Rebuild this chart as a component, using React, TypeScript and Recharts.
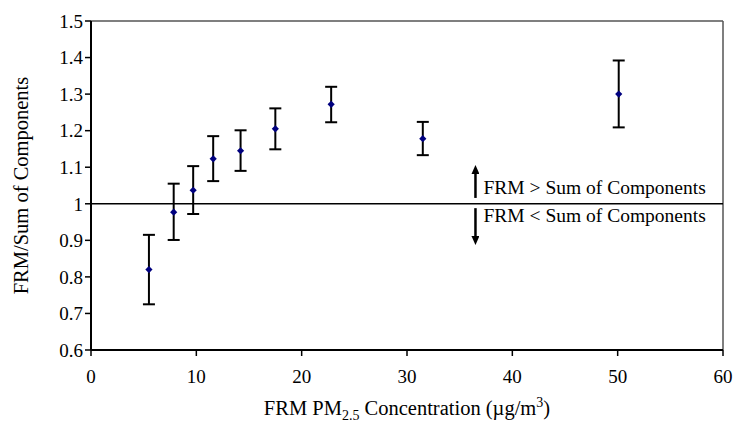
import * as React from "react";
import {
    ScatterChart,
    Scatter,
    XAxis,
    YAxis,
    ErrorBar,
    ReferenceLine,
    ReferenceDot,
} from "recharts";

const concentration = [5.5, 7.85, 9.7, 11.6, 14.2, 17.5, 22.8, 31.5, 50.1];
const ratio = [0.82, 0.977, 1.037, 1.123, 1.145, 1.205, 1.272, 1.178, 1.3];
const lowerBound = [0.725, 0.901, 0.972, 1.062, 1.09, 1.149, 1.223, 1.133, 1.209];
const upperBound = [0.915, 1.055, 1.103, 1.185, 1.201, 1.261, 1.32, 1.224, 1.392];

const xTicks = [0, 10, 20, 30, 40, 50, 60];
const yTicks = [0.6, 0.7, 0.8, 0.9, 1.0, 1.1, 1.2, 1.3, 1.4, 1.5];

const aboveText = "FRM > Sum of Components";
const belowText = "FRM < Sum of Components";
const arrowX = 36.5;

const data = concentration.map((x, i) => ({
    x,
    y: ratio[i],
    err: [ratio[i] - lowerBound[i], upperBound[i] - ratio[i]],
}));

const FONT = "Liberation Serif, Times New Roman, serif";

const Diamond = (props: any) => {
    const { cx, cy } = props;
    const s = 3.6;
    return (
        <path
            d={`M${cx},${cy - s} L${cx + s},${cy} L${cx},${cy + s} L${cx - s},${cy} Z`}
            fill="#00007f"
        />
    );
};

const XLabel = (props: any) => {
    const vb = props.viewBox || { x: 0, y: 0, width: 0, height: 0 };
    const cx = vb.x + vb.width / 2;
    return (
        <text x={cx} y={vb.y + 65} textAnchor="middle" style={{ fontFamily: FONT, fontSize: 20.5 }} fill="#000">
            FRM PM
            <tspan style={{ fontSize: 14 }} dy={5}>2.5</tspan>
            <tspan dy={-5}> Concentration (µg/m</tspan>
            <tspan style={{ fontSize: 14 }} dy={-8}>3</tspan>
            <tspan dy={8}>)</tspan>
        </text>
    );
};

const YLabel = (props: any) => {
    const vb = props.viewBox || { x: 0, y: 0, width: 0, height: 0 };
    const cy = vb.y + vb.height / 2;
    const x = 28;
    return (
        <text
            x={x}
            y={cy}
            transform={`rotate(-90 ${x} ${cy})`}
            textAnchor="middle"
            style={{ fontFamily: FONT, fontSize: 20.5 }}
            fill="#000"
        >
            FRM/Sum of Components
        </text>
    );
};

const Annotation = (props: any) => {
    const { cx, cy } = props;
    return (
        <g style={{ fontFamily: FONT, fontSize: 19.5 }} fill="#000">
            <text x={cx + 8} y={cy - 9.5}>{aboveText}</text>
            <text x={cx + 8} y={cy + 18}>{belowText}</text>
        </g>
    );
};

const fmtY = (v: number) => String(Number(v.toFixed(1)));

const tickStyle = { fill: "#000", fontSize: 19, fontFamily: FONT, style: { fontFamily: FONT } };

export default function App() {
    return (
        <div style={{ position: "absolute", left: 0, top: 0, background: "#fff", fontFamily: FONT }}>
            <ScatterChart
                width={733}
                height={423}
                margin={{ top: 21, right: 10, bottom: 0, left: 0 }}
                style={{ fontFamily: FONT }}
            >
                <defs>
                    <marker
                        id="arrowHead"
                        markerUnits="userSpaceOnUse"
                        markerWidth={9}
                        markerHeight={8}
                        refX={1}
                        refY={4}
                        orient="auto"
                    >
                        <path d="M0,0 L9,4 L0,8 Z" fill="#000" />
                    </marker>
                </defs>
                <XAxis
                    type="number"
                    dataKey="x"
                    domain={[0, 60]}
                    ticks={xTicks}
                    height={73}
                    tickSize={6}
                    tickMargin={14}
                    axisLine={{ stroke: "#000", strokeWidth: 2 }}
                    tickLine={{ stroke: "#000", strokeWidth: 1.5 }}
                    tick={tickStyle}
                    label={<XLabel />}
                />
                <YAxis
                    type="number"
                    dataKey="y"
                    domain={[0.6, 1.5]}
                    ticks={yTicks}
                    width={91}
                    tickSize={6}
                    tickFormatter={fmtY}
                    axisLine={{ stroke: "#000", strokeWidth: 2 }}
                    tickLine={{ stroke: "#000", strokeWidth: 1.5 }}
                    tick={tickStyle}
                    label={<YLabel />}
                />
                <ReferenceLine y={1.5} stroke="#555" strokeWidth={1.5} />
                <ReferenceLine x={60} stroke="#555" strokeWidth={1.5} />
                <ReferenceLine y={1} stroke="#000" strokeWidth={1.5} />
                <ReferenceLine
                    segment={[{ x: arrowX, y: 1.016 }, { x: arrowX, y: 1.084 }]}
                    stroke="#000"
                    strokeWidth={2.5}
                    markerEnd="url(#arrowHead)"
                />
                <ReferenceLine
                    segment={[{ x: arrowX, y: 0.988 }, { x: arrowX, y: 0.909 }]}
                    stroke="#000"
                    strokeWidth={2.5}
                    markerEnd="url(#arrowHead)"
                />
                <ReferenceDot x={arrowX} y={1} r={1} shape={<Annotation />} />
                <Scatter data={data} shape={<Diamond />} isAnimationActive={false}>
                    <ErrorBar dataKey="err" direction="y" width={6} stroke="#000" strokeWidth={2} isAnimationActive={false} />
                </Scatter>
            </ScatterChart>
        </div>
    );
}
